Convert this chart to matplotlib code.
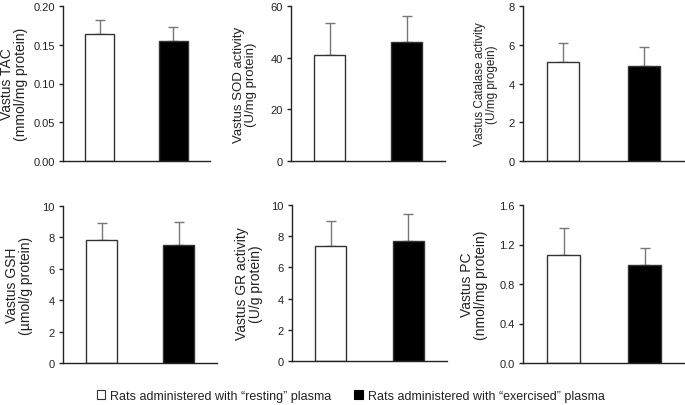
import matplotlib
matplotlib.use("Agg")
import matplotlib.pyplot as plt
from matplotlib.patches import Patch
from matplotlib.ticker import FormatStrFormatter

plt.rcParams["font.family"] = ["Liberation Sans", "DejaVu Sans"]

# data (mean, upward SD)
groups = ["Rats administered with \u201cresting\u201d plasma",
          "Rats administered with \u201cexercised\u201d plasma"]
tac_mean = [0.164, 0.155]
tac_sd = [0.018, 0.018]
sod_mean = [41.1, 46.1]
sod_sd = [12.3, 10.0]
cat_mean = [5.09, 4.92]
cat_sd = [0.98, 0.94]
gsh_mean = [7.83, 7.53]
gsh_sd = [1.07, 1.46]
gr_mean = [7.4, 7.7]
gr_sd = [1.58, 1.7]
pc_mean = [1.09, 0.997]
pc_sd = [0.28, 0.166]

labels = [
    ("Vastus TAC", "(mmol/mg protein)"),
    ("Vastus SOD activity", "(U/mg protein)"),
    ("Vastus Catalase activity", "(U/mg progein)"),
    ("Vastus GSH", "(\u00b5mol/g protein)"),
    ("Vastus GR activity", "(U/g protein)"),
    ("Vastus PC", "(nmol/mg protein)"),
]
means = [tac_mean, sod_mean, cat_mean, gsh_mean, gr_mean, pc_mean]
sds = [tac_sd, sod_sd, cat_sd, gsh_sd, gr_sd, pc_sd]
yticks = [
    [0, 0.05, 0.10, 0.15, 0.20],
    [0, 20, 40, 60],
    [0, 2, 4, 6, 8],
    [0, 2, 4, 6, 8, 10],
    [0, 2, 4, 6, 8, 10],
    [0, 0.4, 0.8, 1.2, 1.6],
]
fmts = ["%.2f", "%d", "%d", "%d", "%d", "%.1f"]
label_sizes = [10, 9.5, 8.5, 10, 10, 10]

# axes boxes in pixels (x0, y0, x1, y1) from the top-left
W, H = 685, 406
boxes_px = [
    (63, 7, 210, 162), (291, 7, 445, 162), (523, 7, 684, 162),
    (63, 207, 217, 364), (292, 206, 447, 362), (523, 206, 685, 364),
]
label_x = [-0.235, -0.22, -0.155, -0.195, -0.187, -0.216]

fig = plt.figure(figsize=(W / 100, H / 100), dpi=100)
spine_col = "#222222"

for i in range(6):
    x0, y0, x1, y1 = boxes_px[i]
    ax = fig.add_axes([x0 / W, 1 - y1 / H, (x1 - x0) / W, (y1 - y0) / H])
    ax.bar([0, 1], means[i], width=0.4, color=["white", "black"],
           edgecolor="#333333", linewidth=1.0, zorder=2)
    ax.errorbar([0, 1], means[i], yerr=[[0, 0], sds[i]], fmt="none",
                ecolor="#777777", elinewidth=1.0, capsize=3.5, capthick=1.0,
                zorder=1)
    ax.set_xlim(-0.5, 1.5)
    ax.set_ylim(yticks[i][0], yticks[i][-1])
    ax.set_yticks(yticks[i])
    ax.yaxis.set_major_formatter(FormatStrFormatter(fmts[i]))
    ax.set_xticks([])
    for s in ["top", "right"]:
        ax.spines[s].set_visible(False)
    for s in ["left", "bottom"]:
        ax.spines[s].set_color(spine_col)
        ax.spines[s].set_linewidth(1.0)
    ax.tick_params(axis="y", direction="out", length=3, width=1,
                   color=spine_col, labelsize=8, labelcolor="#222222", pad=3)
    ax.set_ylabel(labels[i][0] + "\n" + labels[i][1],
                  fontsize=label_sizes[i], linespacing=1.0, color="#222222")
    ax.yaxis.set_label_coords(label_x[i], 0.5)

handles = [Patch(facecolor="white", edgecolor="#333333", linewidth=0.8),
           Patch(facecolor="black", edgecolor="black", linewidth=0.8)]
fig.legend(handles, groups, loc="center", bbox_to_anchor=(0.512, 0.022),
           ncol=2, frameon=False, fontsize=9, handlelength=0.7,
           handleheight=0.7, handletextpad=0.4, columnspacing=1.8,
           labelcolor="#222222")

fig.savefig("out.png", dpi=100, facecolor="white")
